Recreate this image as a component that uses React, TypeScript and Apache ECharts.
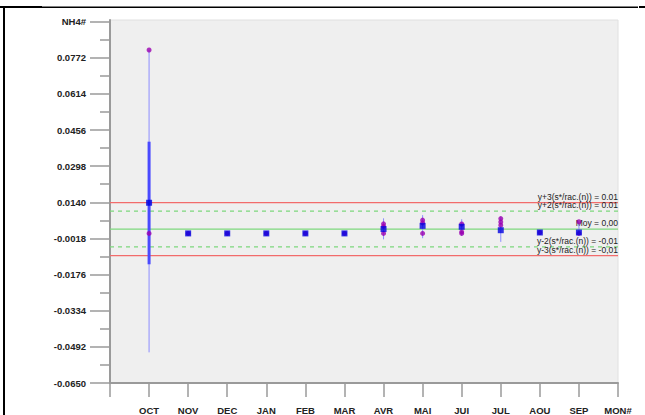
import React, { useEffect, useRef } from "react";
import * as echarts from "echarts";

// Month categories on the x axis (position 1..13)
const months = ["OCT", "NOV", "DEC", "JAN", "FEB", "MAR", "AVR", "MAI", "JUI", "JUL", "AOU", "SEP", "MON#"];

// Y axis ticks (major, labelled) and minor ticks
const yTicks = [-0.065, -0.0492, -0.0334, -0.0176, -0.0018, 0.014, 0.0298, 0.0456, 0.0614, 0.0772, 0.093];
const yTickLabels = ["-0.0650", "-0.0492", "-0.0334", "-0.0176", "-0.0018", "0.0140", "0.0298", "0.0456", "0.0614", "0.0772", "NH4#"];
const yMinorTicks = [-0.0571, -0.0413, -0.0255, -0.0097, 0.0061, 0.0219, 0.0377, 0.0535, 0.0693, 0.0851];

// Individual measurements: [month position, value]
const measures: [number, number][] = [
  [1, 0.0806], [1, 0.0004],
  [2, 0.0004], [3, 0.0004], [4, 0.0004], [5, 0.0004], [6, 0.0004],
  [7, 0.0046], [7, 0.0035], [7, 0.0004],
  [8, 0.0062], [8, 0.005], [8, 0.0004],
  [9, 0.0045], [9, 0.0011], [9, 0.0004],
  [10, 0.0069], [10, 0.0054], [10, 0.004],
  [11, 0.0008],
  [12, 0.0055], [12, 0.0004],
];

// Monthly means: [month position, value]
const means: [number, number][] = [
  [1, 0.0138], [2, 0.0004], [3, 0.0004], [4, 0.0004], [5, 0.0004], [6, 0.0004],
  [7, 0.0023], [8, 0.0037], [9, 0.0033], [10, 0.0018], [11, 0.0008], [12, 0.0008],
];

// Thin range lines: [month position, low, high]
const ranges: [number, number, number][] = [
  [1, -0.0516, 0.0806],
  [7, -0.0022, 0.007],
  [8, -0.0017, 0.0084],
  [9, -0.0007, 0.0066],
  [10, -0.0033, 0.0077],
  [12, 0.0004, 0.0055],
];

// Thick deviation bars: [month position, low, high]
const devBars: [number, number, number][] = [
  [1, -0.0131, 0.0405],
];

// Control limits
const limitValues = [0.0139, 0.0101, 0.0023, -0.0055, -0.0093];
const limitLabels = [
  "y+3(s*/rac.(n)) = 0.01",
  "y+2(s*/rac.(n)) = 0.01",
  "Moy = 0,00",
  "y-2(s*/rac.(n)) = -0,01",
  "y-3(s*/rac.(n)) = -0,01",
];
const limitColors = ["#f26b6b", "#7ed87e", "#7ed87e", "#7ed87e", "#f26b6b"];
const limitDashed = [false, true, false, true, false];

const X_MIN = 0;
const X_MAX = 13;
const FONT = "'Liberation Sans', Arial, sans-serif";

function segmentRenderer(color: string, width: number) {
  return (params: any, api: any) => {
    const x = api.value(0);
    const lo = api.coord([x, api.value(1)]);
    const hi = api.coord([x, api.value(2)]);
    return {
      type: "line",
      shape: { x1: lo[0], y1: lo[1], x2: hi[0], y2: hi[1] },
      style: { stroke: color, lineWidth: width },
    };
  };
}

// Horizontal control-limit line across the plot with its caption at the right end
function limitRenderer(params: any, api: any) {
  const i = params.dataIndex;
  const v = api.value(0);
  const a = api.coord([X_MIN, v]);
  const b = api.coord([X_MAX, v]);
  return {
    type: "group",
    children: [
      {
        type: "line",
        shape: { x1: a[0], y1: a[1], x2: b[0], y2: b[1] },
        style: {
          stroke: limitColors[i],
          lineWidth: 1.2,
          lineDash: limitDashed[i] ? [4, 4] : null,
        },
      },
      {
        type: "text",
        x: b[0],
        y: b[1] - 1.5,
        style: {
          text: limitLabels[i],
          align: "right",
          verticalAlign: "bottom",
          font: `8.5px ${FONT}`,
          fill: "#222",
        },
      },
    ],
  };
}

export default function App() {
  const ref = useRef<HTMLDivElement>(null);

  useEffect(() => {
    if (!ref.current) return;
    const chart = echarts.init(ref.current, null, { renderer: "svg" });

    const option: any = {
      animation: false,
      backgroundColor: "#ffffff",
      grid: {
        left: 110,
        right: 27,
        top: 20,
        bottom: 32,
        show: true,
        backgroundColor: "#efefef",
        borderColor: "#e0e0e0",
        borderWidth: 1,
      },
      xAxis: {
        type: "value",
        min: X_MIN,
        max: X_MAX,
        interval: 1,
        splitLine: { show: false },
        axisLine: { show: true, onZero: false, lineStyle: { color: "#9a9a9a", width: 2 } },
        axisTick: { show: true, length: 14, lineStyle: { color: "#9a9a9a", width: 1.5 } },
        axisLabel: {
          margin: 22,
          fontFamily: FONT,
          fontSize: 9.5,
          fontWeight: "bold",
          color: "#222",
          showMaxLabel: true,
          showMinLabel: true,
          formatter: (v: number) => (v >= 1 ? months[Math.round(v) - 1] : ""),
        },
      },
      yAxis: [
        {
          type: "value",
          min: -0.065,
          max: 0.0937,
          splitLine: { show: false },
          axisLine: { show: true, onZero: false, lineStyle: { color: "#9a9a9a", width: 2 } },
          axisTick: { show: true, length: 20, customValues: yTicks, lineStyle: { color: "#9a9a9a", width: 1.5 } },
          axisLabel: {
            margin: 24,
            customValues: yTicks,
            fontFamily: FONT,
            fontSize: 9.5,
            fontWeight: "bold",
            color: "#222",
            formatter: (v: number) => {
              let best = 0;
              yTicks.forEach((t, i) => {
                if (Math.abs(t - v) < Math.abs(yTicks[best] - v)) best = i;
              });
              return yTickLabels[best];
            },
          },
        },
        {
          type: "value",
          min: -0.065,
          max: 0.0937,
          position: "left",
          splitLine: { show: false },
          axisLine: { show: false, onZero: false },
          axisTick: { show: true, length: 10, customValues: yMinorTicks, lineStyle: { color: "#9a9a9a", width: 1.5 } },
          axisLabel: { show: false },
        },
      ],
      series: [
        {
          type: "custom",
          z: 1,
          silent: true,
          renderItem: limitRenderer,
          encode: { y: 0 },
          data: limitValues.map((v) => [v]),
        },
        {
          type: "custom",
          z: 2,
          renderItem: segmentRenderer("#8c8cff", 1),
          encode: { x: 0, y: [1, 2] },
          data: ranges,
        },
        {
          type: "custom",
          z: 3,
          renderItem: segmentRenderer("#4a4aff", 3),
          encode: { x: 0, y: [1, 2] },
          data: devBars,
        },
        {
          type: "scatter",
          z: 4,
          symbol: "circle",
          symbolSize: 5,
          itemStyle: { color: "#9a00b0" },
          data: measures,
        },
        {
          type: "scatter",
          z: 5,
          symbol: "rect",
          symbolSize: 6,
          itemStyle: { color: "#0000e0" },
          data: means,
        },
      ],
      graphic: [
        { type: "rect", shape: { x: 0, y: 6, width: 42, height: 2 }, style: { fill: "#000" } },
        { type: "rect", shape: { x: 42, y: 6.5, width: 596, height: 1.5 }, style: { fill: "#000" } },
        { type: "rect", shape: { x: 639, y: 6, width: 6, height: 2 }, style: { fill: "#000" } },
        { type: "rect", shape: { x: 3, y: 6, width: 2, height: 409 }, style: { fill: "#000" } },
      ],
    };

    chart.setOption(option);
    return () => chart.dispose();
  }, []);

  return (
    <div
      ref={ref}
      style={{ position: "fixed", left: 0, top: 0, width: 645, height: 415 }}
    />
  );
}
